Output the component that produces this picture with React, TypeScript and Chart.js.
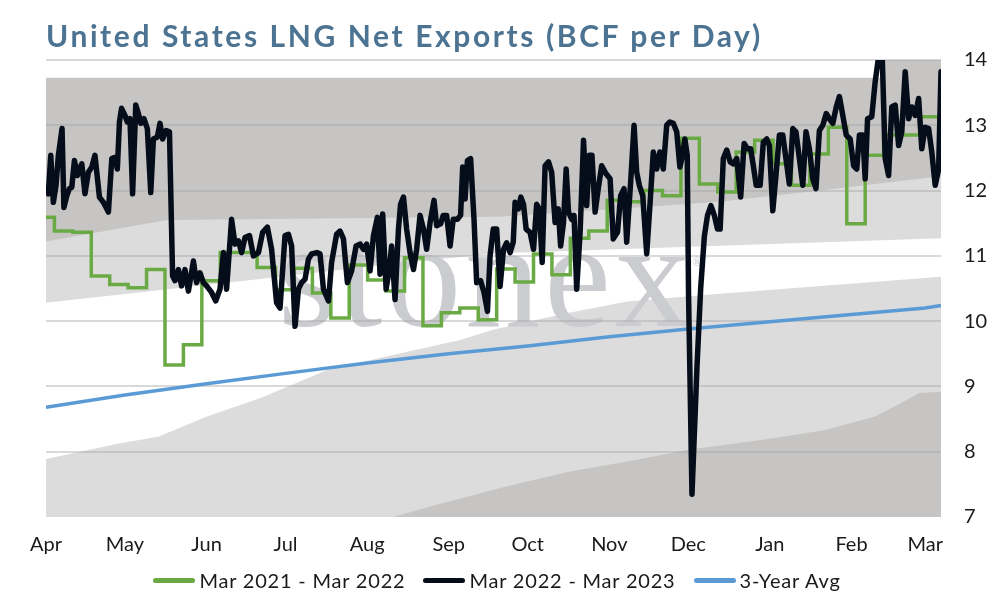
import React, { useEffect, useRef } from 'react';
import Chart from 'chart.js/auto';

// x values are days since Apr 1, y values are BCF per day
const monthLabels = ['Apr', 'May', 'Jun', 'Jul', 'Aug', 'Sep', 'Oct', 'Nov', 'Dec', 'Jan', 'Feb', 'Mar'];
const monthDays = [0, 30, 61, 91, 122, 153, 183, 214, 244, 275, 306, 334];
const yTicks = [7, 8, 9, 10, 11, 12, 13, 14];

// Mar 2021 - Mar 2022 (weekly steps)
const exports2122: [number, number][] = [
  [0, 11.59], [3.2, 11.38], [10.2, 11.36], [17.2, 10.69], [24.2, 10.56], [31.2, 10.51], [38.2, 10.79],
  [45.2, 9.33], [52.2, 9.64], [59.2, 10.62], [66.2, 11.05], [73.2, 11.05], [80.2, 10.82], [87.2, 10.48],
  [94.2, 10.81], [101.2, 10.43], [108.2, 10.05], [115.2, 10.86], [122.2, 10.63], [129.2, 10.46],
  [136.2, 10.97], [143.2, 9.93], [150.2, 10.13], [157.2, 10.2], [164.2, 10.02], [171.2, 10.8],
  [178.2, 10.6], [185.2, 11.03], [192.2, 10.71], [199.2, 11.27], [206.2, 11.38], [213.2, 11.85],
  [220.2, 11.83], [227.2, 12.0], [234.2, 11.92], [241.2, 12.8], [248.2, 12.1], [255.2, 11.98],
  [262.2, 12.59], [269.2, 12.77], [276.2, 12.41], [283.2, 12.08], [290.2, 12.56], [297.2, 12.97],
  [304.2, 11.49], [311.2, 12.54], [318.2, 12.85], [325.2, 12.85], [332.2, 13.13], [339.2, 12.92],
  [340, 12.92],
];

// Mar 2022 - Mar 2023 (daily)
const exports2223: [number, number][] = [
  [0, 12.0], [0.9, 11.95], [1.8, 12.54], [2.8, 11.82], [3.8, 12.08], [4.7, 12.54], [6.1, 12.95], [6.8, 11.74],
  [7.9, 11.92], [8.9, 12.03], [9.8, 12.05], [10.8, 12.46], [11.9, 12.23], [13.6, 12.41], [14.8, 11.95],
  [16.1, 12.28], [17.4, 12.36], [18.6, 12.54], [20.3, 11.9], [21.8, 11.82], [23.7, 11.67], [25, 12.49],
  [26.2, 12.51], [27.1, 12.33], [27.9, 13.05], [28.7, 13.26], [30, 13.15], [30.9, 13.05], [31.9, 13.1],
  [32.9, 11.95], [34.1, 13.31], [35.1, 13.18], [36, 13.03], [37.2, 13.1], [38.5, 12.95], [39.8, 11.97],
  [40.8, 12.79], [42.3, 12.82], [43.3, 13.03], [44.3, 12.79], [45.6, 12.92], [46.9, 12.9], [48.1, 10.69],
  [49, 10.62], [50.3, 10.79], [51.5, 10.54], [52.8, 10.79], [54.1, 10.46], [56, 10.92], [57.2, 10.59],
  [58.5, 10.74], [59.8, 10.59], [61, 10.54], [62.9, 10.44], [64.5, 10.31], [66.1, 10.49], [67.4, 11.05],
  [68.6, 10.49], [70.5, 11.56], [71.8, 11.18], [73.1, 11.23], [74.3, 11.05], [75.6, 11.28], [77.3, 11.31],
  [78.8, 11.0], [80.7, 11.05], [82.3, 11.36], [84.1, 11.44], [85.7, 11.1], [87.6, 10.28], [88.9, 10.2],
  [90.8, 11.31], [92.1, 11.33], [93.3, 11.15], [94.6, 9.92], [95.9, 10.49], [97.1, 10.59], [98.4, 10.64],
  [99.7, 10.95], [100.9, 11.03], [102.9, 11.05], [104.1, 11.03], [105.4, 10.49], [107.3, 10.31],
  [108.5, 10.9], [110.4, 11.33], [111.7, 11.38], [113, 11.26], [114.5, 10.59], [116.1, 10.77],
  [117.8, 11.15], [119.3, 11.18], [120.6, 11.1], [121.8, 11.18], [123.1, 10.77], [124.4, 11.31],
  [125.9, 11.59], [126.9, 10.72], [127.9, 11.64], [129.2, 10.49], [130.4, 10.79], [131.3, 11.15],
  [132.6, 10.33], [133.9, 11.41], [134.7, 11.79], [135.8, 11.9], [137, 11.41], [138.3, 11.05],
  [139.6, 10.79], [140.8, 11.1], [142.1, 11.62], [143.4, 11.41], [144.6, 11.1], [145.9, 11.51],
  [147.4, 11.85], [148.4, 11.46], [149.9, 11.49], [150.9, 11.62], [152.2, 11.62], [153.5, 11.15],
  [154.7, 11.56], [156.3, 11.56], [157.5, 11.62], [158.3, 12.36], [159.2, 11.87], [160.1, 12.46],
  [161.3, 12.49], [162.6, 11.56], [163.6, 10.59], [165.1, 10.62], [166.4, 10.44], [167.7, 10.15],
  [168.7, 11.0], [169.9, 11.41], [171.2, 11.41], [172.5, 10.53], [173.8, 11.1], [175, 11.2],
  [176.3, 11.05], [177.5, 11.21], [178.2, 11.82], [179.5, 11.72], [180.4, 11.9], [181.4, 11.79],
  [182.4, 11.41], [183.9, 11.36], [185.2, 11.1], [186.4, 11.79], [187.4, 11.72], [188.5, 10.9],
  [189.6, 12.38], [190.9, 12.44], [192.1, 12.28], [193.4, 11.51], [194.6, 11.72], [195.5, 11.15],
  [196.6, 11.51], [197.6, 12.33], [198.5, 11.67], [199.7, 11.56], [200.6, 11.62], [201.6, 10.49],
  [202.9, 11.36], [204.2, 12.77], [205.4, 11.77], [206.4, 12.54], [207.4, 12.54], [208.6, 11.67],
  [209.8, 12.03], [211.1, 12.38], [212.7, 12.26], [214.3, 12.18], [215.5, 11.26], [217.1, 11.36],
  [218.3, 11.92], [219.6, 12.03], [220.6, 11.21], [222.1, 12.13], [223.4, 13.0], [224.4, 12.28],
  [225.4, 12.08], [226.7, 11.92], [228.2, 11.03], [229.5, 11.82], [230.7, 12.59], [232, 12.33],
  [233.2, 12.59], [234.5, 12.33], [235.8, 13.0], [237, 13.05], [238.3, 13.03], [239.6, 12.9],
  [240.8, 12.36], [241.8, 12.54], [242.7, 12.79], [243.6, 12.54], [244.1, 10.4], [245.4, 7.35],
  [247.3, 9.3], [248.7, 10.5], [250.1, 11.3], [251.3, 11.62], [252.6, 11.77], [253.9, 11.62],
  [255.1, 11.41], [256.1, 11.41], [257.3, 12.49], [258.6, 12.62], [259.9, 12.44], [261.1, 12.41],
  [262.4, 12.49], [263.9, 11.9], [265.2, 12.72], [266.5, 12.64], [267.7, 12.64], [268.7, 12.38],
  [269.8, 12.08], [271.3, 12.08], [272.5, 12.74], [273.8, 12.79], [274.8, 12.69], [276.1, 11.69],
  [277.3, 12.23], [278.6, 12.85], [279.9, 12.85], [281.1, 12.49], [282.4, 12.1], [283.7, 12.95],
  [284.9, 12.9], [286.2, 12.49], [287.5, 12.08], [288.7, 12.9], [290, 12.64], [291.3, 12.18],
  [292.5, 12.03], [293.8, 12.92], [295.1, 13.0], [296.4, 13.18], [297.6, 13.1], [298.9, 13.03],
  [300.2, 13.28], [301.4, 13.44], [302.7, 13.15], [304, 12.85], [305.5, 12.79], [306.8, 12.38],
  [308, 12.33], [309, 12.85], [310.3, 12.85], [311.2, 12.18], [312.1, 13.1], [313.7, 13.13],
  [315, 13.67], [316.3, 14.05], [317.5, 14.3], [318.8, 12.49], [320.1, 12.23], [321.3, 13.28],
  [322.6, 13.31], [323.9, 12.69], [325.1, 12.9], [326.4, 13.82], [327.7, 13.1], [328.9, 13.28],
  [330.2, 13.15], [331.5, 13.41], [332.7, 12.64], [334, 12.97], [335.3, 12.95], [336.5, 12.59],
  [337.8, 12.08], [339.1, 12.33], [340, 13.82],
];

// 3-Year Avg
const avg3yr: [number, number][] = [
  [0, 8.68], [30, 8.87], [61, 9.04], [91, 9.2], [122, 9.36], [153, 9.5], [183, 9.62],
  [214, 9.76], [244, 9.88], [275, 9.99], [306, 10.1], [334, 10.2], [340, 10.24],
];

// range band edges, top to bottom
const bandTop: [number, number][] = [[0, 13.73], [317.9, 13.73], [318.1, 14.5], [340, 14.5]];
const bandUpper: [number, number][] = [[0, 11.22], [46, 11.55], [172, 11.6], [256, 11.83], [294, 12.0], [340, 12.22]];
const bandMid: [number, number][] = [[0, 10.28], [89, 10.68], [134.5, 10.89], [172, 11.04], [340, 11.27]];
const bandLower: [number, number][] = [
  [0, 7.89], [28.1, 8.13], [42.6, 8.23], [61.9, 8.55], [81.3, 8.82], [106.8, 9.25], [131.8, 9.48],
  [157.3, 9.71], [169.8, 9.87], [195.3, 10.1], [220.7, 10.3], [256.1, 10.42], [340, 10.68],
];
const bandBottom: [number, number][] = [
  [0, 7], [131.8, 7], [151.2, 7.22], [175.2, 7.47], [199.5, 7.7], [223.4, 7.87], [243.9, 8.03],
  [271.7, 8.18], [295.6, 8.33], [315, 8.54], [324.5, 8.74], [331.7, 8.9], [340, 8.92],
];

const GREEN = '#6aaa44';
const BLACK = '#060d1a';
const BLUE = '#5b9bd5';
const DARK_BAND = '#c6c5c4';
const LIGHT_BAND = '#dcdcdc';
const FONT = 'Lato, "Open Sans", sans-serif';

const toPoints = (rows: [number, number][]) => rows.map(([x, y]) => ({ x, y }));

const band = (rows: [number, number][], color: string, order: number) => ({
  label: '',
  data: toPoints(rows),
  backgroundColor: color,
  borderWidth: 0,
  pointRadius: 0,
  fill: 'start',
  order,
});

// faint "stonex" logo behind the lines
const watermark = {
  id: 'watermark',
  beforeDraw(chart: Chart) {
    const { ctx, chartArea } = chart;
    ctx.save();
    ctx.beginPath();
    ctx.rect(chartArea.left, chartArea.top, chartArea.right - chartArea.left, chartArea.bottom - chartArea.top);
    ctx.clip();
    ctx.font = '150px "Liberation Serif", "DejaVu Serif", serif';
    ctx.fillStyle = '#cbccd0';
    ctx.textBaseline = 'alphabetic';
    const text = 'stonex';
    const natural = ctx.measureText(text).width;
    const spacing = (412 - natural) / (text.length - 1);
    let x = chartArea.left + 232;
    for (const ch of text) {
      ctx.fillText(ch, x, 326);
      x += ctx.measureText(ch).width + spacing;
    }
    ctx.font = '13px "Liberation Serif", serif';
    ctx.fillText('®', x - spacing + 2, 266);
    ctx.restore();
  },
};

const legendItems = [
  { label: 'Mar 2021 - Mar 2022', color: GREEN },
  { label: 'Mar 2022 - Mar 2023', color: BLACK },
  { label: '3-Year Avg', color: BLUE },
];

const App: React.FC = () => {
  const chartRef = useRef<HTMLCanvasElement>(null);
  const chartInstance = useRef<Chart | null>(null);

  useEffect(() => {
    if (!chartRef.current) return;
    if (chartInstance.current) chartInstance.current.destroy();

    chartInstance.current = new Chart(chartRef.current, {
      type: 'line',
      data: {
        datasets: [
          {
            label: 'Mar 2022 - Mar 2023',
            data: toPoints(exports2223),
            borderColor: BLACK,
            borderWidth: 5.5,
            borderJoinStyle: 'round',
            borderCapStyle: 'round',
            pointRadius: 0,
            fill: false,
            order: 0,
          },
          {
            label: 'Mar 2021 - Mar 2022',
            data: toPoints(exports2122),
            borderColor: GREEN,
            borderWidth: 3.5,
            stepped: 'before',
            pointRadius: 0,
            fill: false,
            order: 1,
          },
          {
            label: '3-Year Avg',
            data: toPoints(avg3yr),
            borderColor: BLUE,
            borderWidth: 3.5,
            pointRadius: 0,
            fill: false,
            order: 2,
          },
          band(bandBottom, DARK_BAND, 6),
          band(bandLower, LIGHT_BAND, 7),
          band(bandMid, '#ffffff', 8),
          band(bandUpper, LIGHT_BAND, 9),
          band(bandTop, DARK_BAND, 10),
        ] as any,
      },
      options: {
        responsive: false,
        animation: false,
        layout: { padding: { left: 46, top: 60, right: 0, bottom: 35 } },
        plugins: {
          legend: { display: false },
          tooltip: { enabled: false },
          filler: { drawTime: 'beforeDraw' },
        },
        scales: {
          x: {
            type: 'linear',
            min: 0,
            max: 340,
            afterFit: (scale: any) => { scale.height = 48; },
            afterBuildTicks: (scale: any) => { scale.ticks = monthDays.map((value) => ({ value })); },
            grid: { display: false },
            border: { display: false },
            ticks: {
              autoSkip: false,
              maxRotation: 0,
              padding: 8,
              color: '#1a1a1a',
              font: { family: FONT, size: 20 },
              callback: (_v: any, i: number) => monthLabels[i],
            },
          },
          y: {
            position: 'right',
            min: 7,
            max: 14,
            afterFit: (scale: any) => { scale.width = 53; },
            afterBuildTicks: (scale: any) => { scale.ticks = yTicks.map((value) => ({ value })); },
            grid: {
              color: (c: any) => (c.tick && c.tick.value === 7 ? 'rgba(0,0,0,0)' : 'rgba(165,165,165,0.42)'),
              lineWidth: 2,
              drawTicks: false,
            },
            border: { display: false },
            ticks: {
              padding: 23,
              color: '#1a1a1a',
              font: { family: FONT, size: 20 },
            },
          },
        },
      },
      plugins: [watermark],
    });

    return () => {
      if (chartInstance.current) {
        chartInstance.current.destroy();
        chartInstance.current = null;
      }
    };
  }, []);

  return (
    <div style={{ position: 'absolute', left: 0, top: 0, width: 994, height: 600, background: '#ffffff' }}>
      <canvas ref={chartRef} width={994} height={600} style={{ position: 'absolute', left: 0, top: 0 }}></canvas>
      <div
        style={{
          position: 'absolute',
          left: 46,
          top: 17,
          font: `bold 30px ${FONT}`,
          lineHeight: '36px',
          letterSpacing: '2.6px',
          color: '#4c7391',
          whiteSpace: 'nowrap',
        }}
      >
        United States LNG Net Exports (BCF per Day)
      </div>
      <div
        style={{
          position: 'absolute',
          left: 0,
          top: 568,
          width: 994,
          display: 'flex',
          justifyContent: 'center',
          gap: 18,
          font: `20px ${FONT}`,
          lineHeight: '24px',
          letterSpacing: '0.8px',
          color: '#1a1a1a',
        }}
      >
        {legendItems.map((item) => (
          <div key={item.label} style={{ display: 'flex', alignItems: 'center' }}>
            <span style={{ display: 'inline-block', width: 42, height: 5, borderRadius: 3, background: item.color, marginRight: 4 }}></span>
            <span>{item.label}</span>
          </div>
        ))}
      </div>
    </div>
  );
};

export default App;
